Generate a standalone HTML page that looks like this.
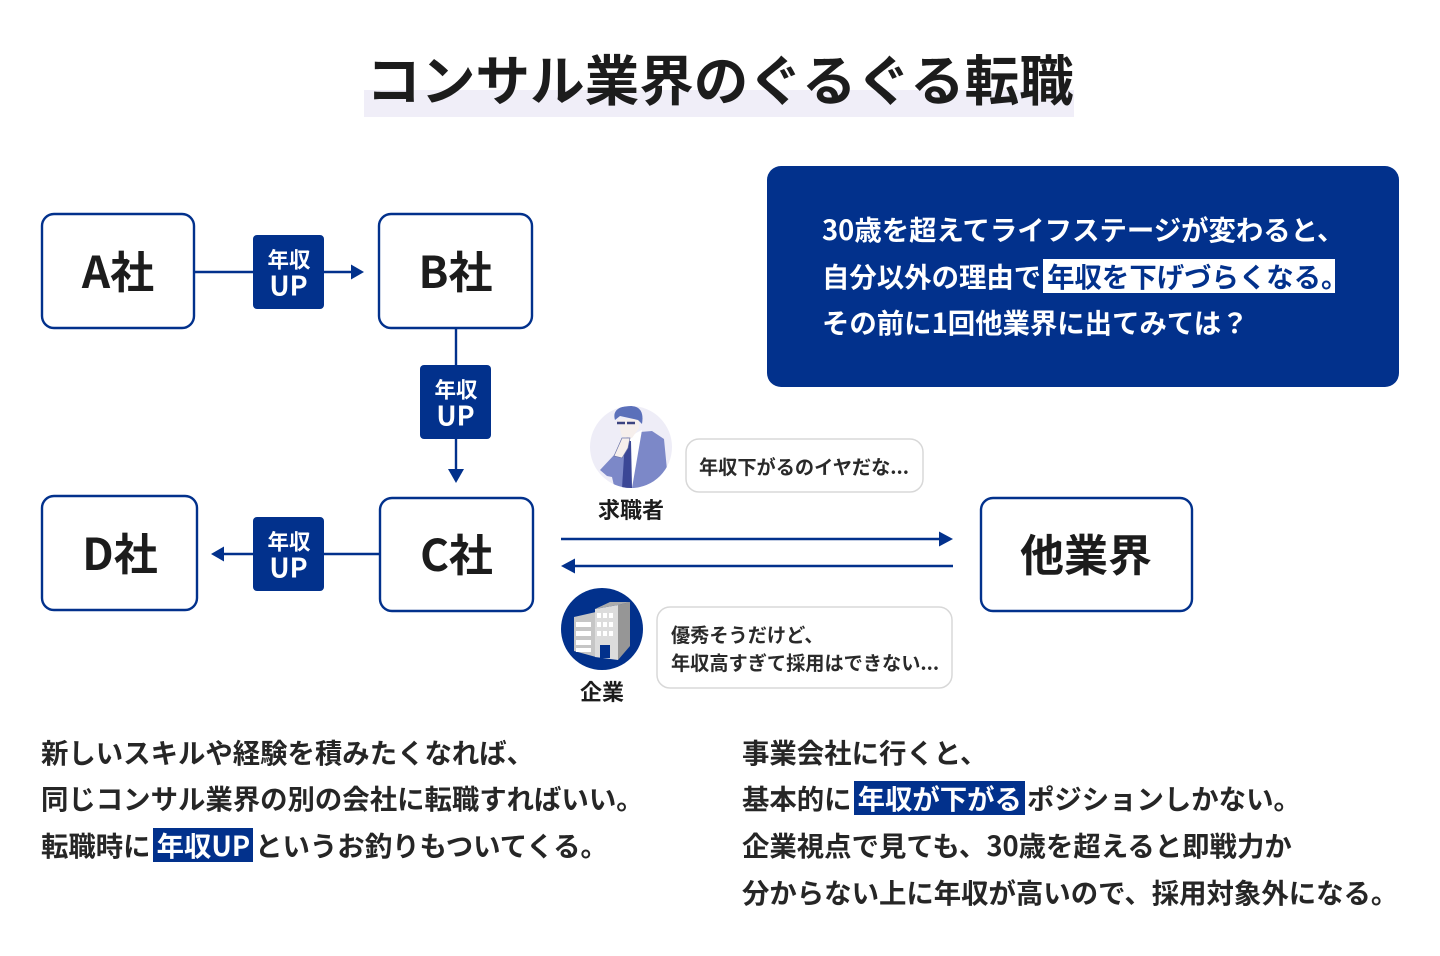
<!DOCTYPE html>
<html lang="ja"><head><meta charset="utf-8"><style>
html,body{margin:0;padding:0;background:#fff}
#p{position:relative;width:1440px;height:956px;overflow:hidden;background:#fff;font-family:"Noto Sans CJK JP","Liberation Sans",sans-serif;font-weight:700;color:#1c1c1c}
svg{position:absolute;left:0;top:0}
.t{position:absolute;white-space:nowrap;line-height:1}
.c{transform:translate(-50%,-50%)}
.h,.w{display:inline-block;line-height:33px;height:34px;vertical-align:baseline}
.h{background:#02318c;color:#fff;margin:0 2px 0 2px;padding:0 3px 0 4px}
.w{background:linear-gradient(#fff,#fff) 0 0/292px 100% no-repeat;color:#02318c;margin-left:2px;padding:0 4px}
.b{font-size:27.4px;font-weight:700;line-height:30px;color:#262626}
.u{color:#fff;text-align:center;font-size:21.5px;font-weight:700}
.u2{color:#fff;font-size:27px;font-weight:700}
.k{font-size:27.4px;color:#fff;font-weight:700;line-height:30px}
.s{font-size:19.2px;font-weight:700;color:#2a2a2a}
</style></head><body><div id="p">
<svg width="1440" height="956" viewBox="0 0 1440 956">
<rect x="364" y="90" width="710" height="27" fill="#f0eef8"/>
<rect x="767" y="166" width="632" height="221" rx="14" fill="#02318c"/>
<g fill="#fff" stroke="#02318c" stroke-width="2.4">
<rect x="42" y="214" width="152" height="114" rx="12"/>
<rect x="379" y="214" width="153" height="114" rx="12"/>
<rect x="42" y="496" width="155" height="114" rx="12"/>
<rect x="380" y="498" width="153" height="113" rx="12"/>
<rect x="981" y="498" width="211" height="113" rx="12"/>
</g>
<g stroke="#02318c" stroke-width="2.4" fill="none">
<path d="M195 272H354M456 328V472M381 554H222M561 539H942M953 566H572"/>
</g>
<g fill="#02318c">
<path d="M351 264.500L364 272L351 279.500Z"/>
<path d="M448 469L456 483L464 469Z"/>
<path d="M224 546.500L211 554L224 561.500Z"/>
<path d="M939 531.500L953 539L939 546.500Z"/>
<path d="M575 558.500L561 566L575 573.500Z"/>
<rect x="253" y="235" width="71" height="74" rx="4"/>
<rect x="420" y="365" width="71" height="74" rx="4"/>
<rect x="253" y="517" width="71" height="74" rx="4"/>
</g>
<g fill="#fff" stroke="#d8d8d8" stroke-width="1.500">
<rect x="686" y="439" width="237" height="53" rx="13"/>
<rect x="657" y="607" width="295" height="81" rx="13"/>
</g>
<circle cx="631" cy="447" r="41" fill="#eeedf7"/>
<clipPath id="cp"><circle cx="631" cy="447" r="41"/></clipPath>
<g clip-path="url(#cp)">
<path d="M600 470L615 454L624 450L627 436L640 432L652 431L664 439L667 470L658 490H615L612 477L607 476Z" fill="#7c88c8"/>
<path d="M630 436L642 430L632 488H622Z" fill="#fff"/>
<path d="M625 441L631 441L632 488L622 488Z" fill="#3b4796"/>
<path d="M618 420L639 418L639 428L632 438L622 437Z" fill="#f6efec"/>
<path d="M615 420C612 410 620 406 630 406C640 406 644 412 642 424L638 420L620 416Z" fill="#5b70ba"/>
<path d="M617 423H625M627 423H635" stroke="#3c4480" stroke-width="2.500"/>
<path d="M614 456L622 438L630 438L628 448L622 458Z" fill="#f6efec" stroke="#6b74a8" stroke-width=".7"/>
</g>
<circle cx="602" cy="629" r="41" fill="#02318c"/>
<path d="M574 617L596 612V657L574 651Z" fill="#c6c6c6"/>
<path d="M595 609L618 605V660L595 657Z" fill="#dcdcdc"/>
<path d="M618 605L630 602V646L618 660Z" fill="#969696"/>
<path d="M595 609L610 602L630 602L618 605Z" fill="#ababab"/>
<g fill="#fff">
<path d="M576 622H591V627H576ZM576 631H591V636H576ZM576 640H591V645H576ZM576 648H591V652H576Z"/>
<path d="M597 613h4v5h-4zM603 613h4v5h-4zM609 613h4v5h-4zM597 622h4v5h-4zM603 622h4v5h-4zM609 622h4v5h-4zM597 631h4v5h-4zM603 631h4v5h-4zM609 631h4v5h-4z"/>
</g>
<path d="M600 645H610V658H600Z" fill="#02318c"/>
</svg>

<div class="t c" style="left:720px;top:78px;font-size:54.6px;color:#1c1c1c">コンサル業界のぐるぐる転職</div>

<div class="t c" style="left:118px;top:269px;font-size:44px">A社</div>
<div class="t c" style="left:455.500px;top:269px;font-size:44px">B社</div>
<div class="t c" style="left:120px;top:551px;font-size:44px">D社</div>
<div class="t c" style="left:456.500px;top:552px;font-size:44px">C社</div>
<div class="t c" style="left:1086px;top:552px;font-size:44px">他業界</div>

<div class="t c u" style="left:289px;top:259px">年収</div>
<div class="t c u2" style="left:288.500px;top:284px">UP</div>
<div class="t c u" style="left:456px;top:389px">年収</div>
<div class="t c u2" style="left:455.500px;top:414px">UP</div>
<div class="t c u" style="left:289px;top:541px">年収</div>
<div class="t c u2" style="left:288.500px;top:566px">UP</div>

<div class="t k" style="left:822px;top:213px">30歳を超えてライフステージが変わると、</div>
<div class="t k" style="left:822px;top:259px">自分以外の理由で<span class="w">年収を下げづらくなる。</span></div>
<div class="t k" style="left:822px;top:306px">その前に1回他業界に出てみては？</div>

<div class="t s" style="left:699px;top:457px">年収下がるのイヤだな...</div>
<div class="t s" style="left:671px;top:625px">優秀そうだけど、</div>
<div class="t s" style="left:671px;top:653px">年収高すぎて採用はできない...</div>
<div class="t c" style="left:631px;top:509px;font-size:22px">求職者</div>
<div class="t c" style="left:602px;top:691px;font-size:22px">企業</div>

<div class="t b" style="left:41px;top:736px">新しいスキルや経験を積みたくなれば、</div>
<div class="t b" style="left:41px;top:782px">同じコンサル業界の別の会社に転職すればいい。</div>
<div class="t b" style="left:41px;top:828px">転職時に<span class="h">年収UP</span>というお釣りもついてくる。</div>

<div class="t b" style="left:742px;top:736px">事業会社に行くと、</div>
<div class="t b" style="left:742px;top:781px">基本的に<span class="h">年収が下がる</span>ポジションしかない。</div>
<div class="t b" style="left:742px;top:829px">企業視点で見ても、30歳を超えると即戦力か</div>
<div class="t b" style="left:742px;top:876px">分からない上に年収が高いので、採用対象外になる。</div>
</div></body></html>
